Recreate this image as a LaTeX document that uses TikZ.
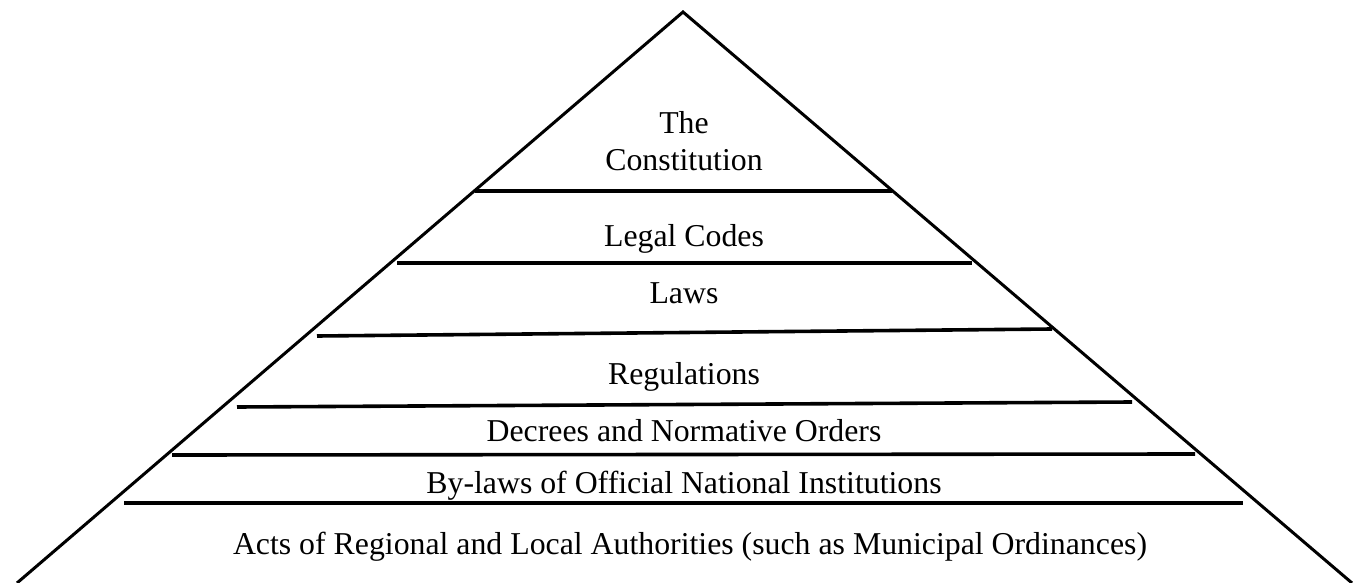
\documentclass[tikz,border=0pt]{standalone}
\usepackage{fontspec}
\setmainfont{Liberation Serif}
\begin{document}
\begin{tikzpicture}[x=1pt,y=-1pt,
  edge/.style={line width=3pt,line cap=butt},
  tier/.style={line width=3.6pt},
  lbl/.style={font=\fontsize{31.8}{36}\selectfont,inner sep=0pt,anchor=base}]
\useasboundingbox (0,0) rectangle (1360,583);
\coordinate (apex) at (683,12);
\coordinate (bl) at (17,583);
\coordinate (br) at (1352,583);
\draw[edge,line join=miter] (bl) -- (apex) -- (br);
\coordinate (a1) at (475,191); \coordinate (b1) at (892,191);
\coordinate (a2) at (397,263); \coordinate (b2) at (972,263);
\coordinate (a3) at (317,336); \coordinate (b3) at (1052,329);
\coordinate (a4) at (237,407); \coordinate (b4) at (1132,402);
\coordinate (a5) at (172,455); \coordinate (b5) at (1195,454);
\coordinate (a6) at (124,503); \coordinate (b6) at (1243,503);
\foreach \i in {1,...,6} \draw[tier] (a\i) -- (b\i);
\node[lbl] (t1) at (684,134) {The};
\node[lbl] (t2) at (684,171) {Constitution};
\node[lbl] (t3) at (684,246) {Legal Codes};
\node[lbl] (t4) at (684,303) {Laws};
\node[lbl] (t5) at (684,384) {Regulations};
\node[lbl] (t6) at (684,441) {Decrees and Normative Orders};
\node[lbl] (t7) at (684,493) {By-laws of Official National Institutions};
\node[lbl] (t8) at (690,554) {Acts of Regional and Local Authorities (such as Municipal Ordinances)};
\end{tikzpicture}
\end{document}
